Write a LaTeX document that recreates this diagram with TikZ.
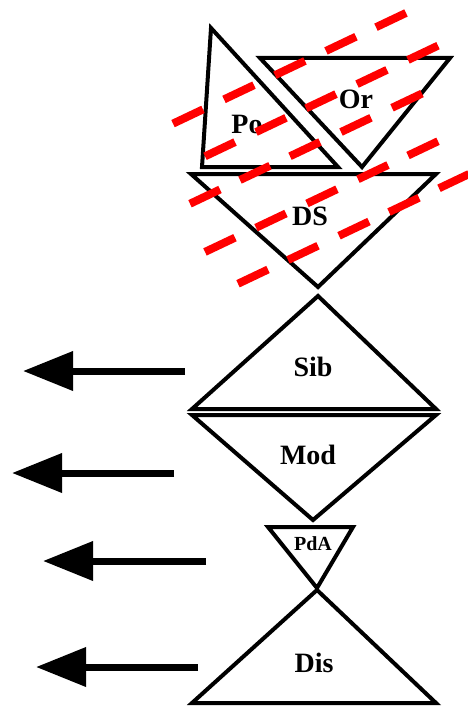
\documentclass[tikz,border=0pt]{standalone}
\usepackage{fontspec}
\setmainfont{Liberation Serif}
\usetikzlibrary{arrows.meta}
\tikzset{
  tri/.style={draw=black, line width=4pt, line join=miter, fill=none},
  lbl/.style={inner sep=0pt, font=\fontsize{28}{28}\selectfont\bfseries},
  smalllbl/.style={inner sep=0pt, font=\fontsize{20}{20}\selectfont\bfseries},
  bigarrow/.style={line width=7pt, -{Triangle[length=50pt,width=38pt]}},
  reddash/.style={draw=red, line width=8pt, line cap=butt}
}
\begin{document}
\begin{tikzpicture}[x=1pt,y=-1pt]
\useasboundingbox (0,0) rectangle (467,706);
% triangles
\draw[tri] (211,28) -- (202,167) -- (338,167) -- cycle;
\draw[tri] (260,58) -- (450,58) -- (362,167) -- cycle;
\draw[tri] (191,174) -- (436,174) -- (318,287) -- cycle;
\draw[tri] (318,296) -- (192,409) -- (436,409) -- cycle;
\draw[tri] (192,415) -- (436,415) -- (313,520) -- cycle;
\draw[tri] (268,527) -- (353,527) -- (317,588) -- cycle;
\draw[tri] (317,590) -- (192,703) -- (436,703) -- cycle;
% labels
\node[lbl] (po) at (247,124) {Po};
\node[lbl] (or) at (356,99) {Or};
\node[lbl] (ds) at (310,216) {DS};
\node[lbl] (sib) at (313,367) {Sib};
\node[lbl] (mod) at (308,455) {Mod};
\node[smalllbl] (pda) at (313,544) {PdA};
\node[lbl] (dis) at (314,663) {Dis};
% arrows
\coordinate (t1) at (185,371); \coordinate (h1) at (23,371);
\coordinate (t2) at (174,473); \coordinate (h2) at (12,473);
\coordinate (t3) at (206,561); \coordinate (h3) at (43,561);
\coordinate (t4) at (198,667); \coordinate (h4) at (36,667);
\draw[bigarrow] (t1) -- (h1);
\draw[bigarrow] (t2) -- (h2);
\draw[bigarrow] (t3) -- (h3);
\draw[bigarrow] (t4) -- (h4);
% red dashed lines
\foreach \c/\xl in {205.8/{188,239,290,341,391},
                    253.7/{220,271,321,372,423},
                    294/{205,255,305,356,407},
                    349.3/{220,271,322,373,423},
                    396.8/{253,303,354,404,454}}{
  \foreach \x in \xl {
    \draw[reddash] ({\x-15},{\c-0.475*(\x-15)}) -- ({\x+15},{\c-0.475*(\x+15)});
  }
}
\end{tikzpicture}
\end{document}
